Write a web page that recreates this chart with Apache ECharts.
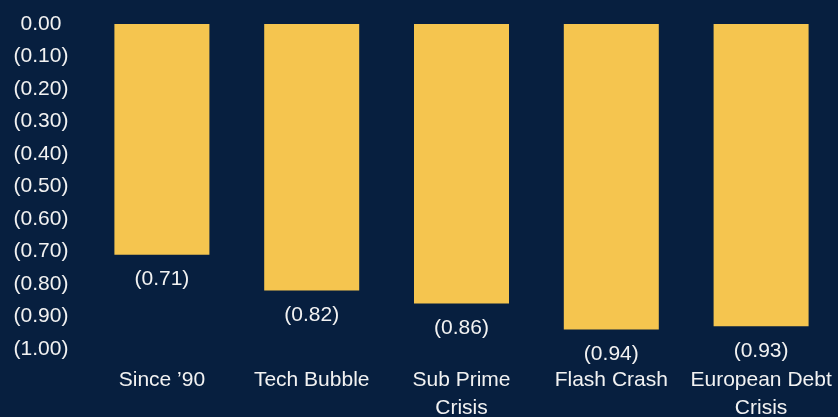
<!DOCTYPE html>
<html>
<head>
<meta charset="utf-8">
<script src="https://cdn.jsdelivr.net/npm/echarts@6/dist/echarts.min.js"></script>
<style>
  html, body { margin: 0; padding: 0; background: #071f3f; }
  #chart { width: 838px; height: 417px; }
</style>
</head>
<body>
<div id="chart"></div>
<script>
// Drawdown episodes and their values (negative = decline)
const categories = ['Since \u201990', 'Tech Bubble', 'Sub Prime\nCrisis', 'Flash Crash', 'European Debt\nCrisis'];
const drawdowns = [-0.71, -0.82, -0.86, -0.94, -0.93];
const axisMin = -1.0;
const axisMax = 0.0;
const axisStep = 0.1;

// Accounting-style number: negatives wrapped in parentheses
function fmt(v) {
  const r = Math.round(v * 100) / 100;
  if (r === 0) return '0.00';
  return r < 0 ? '(' + (-r).toFixed(2) + ')' : r.toFixed(2);
}

const textColor = '#f2f2f2';
const font = '"Liberation Sans", Arial, sans-serif';

const chart = echarts.init(document.getElementById('chart'), null, { renderer: 'canvas' });
chart.setOption({
  backgroundColor: '#071f3f',
  animation: false,
  grid: { left: 87, right: 2, top: 24, bottom: 68, containLabel: false, outerBoundsMode: 'none' },
  xAxis: {
    type: 'category',
    data: categories,
    position: 'bottom',
    axisLine: { show: false },
    axisTick: { show: false },
    axisLabel: {
      color: textColor,
      fontFamily: font,
      fontSize: 21,
      lineHeight: 28,
      margin: 17,
      interval: 0,
      hideOverlap: false
    },
    splitLine: { show: false }
  },
  yAxis: {
    type: 'value',
    min: axisMin,
    max: axisMax,
    interval: axisStep,
    axisLine: { show: false },
    axisTick: { show: false },
    splitLine: { show: false },
    axisLabel: {
      color: textColor,
      fontFamily: font,
      fontSize: 21,
      align: 'center',
      margin: 46,
      formatter: fmt
    }
  },
  series: [{
    type: 'bar',
    data: drawdowns,
    barWidth: 95,
    itemStyle: { color: '#f5c54f' },
    label: {
      show: true,
      position: 'bottom',
      distance: 14,
      color: textColor,
      fontFamily: font,
      fontSize: 21,
      formatter: p => fmt(p.value)
    }
  }]
});
</script>
</body>
</html>
